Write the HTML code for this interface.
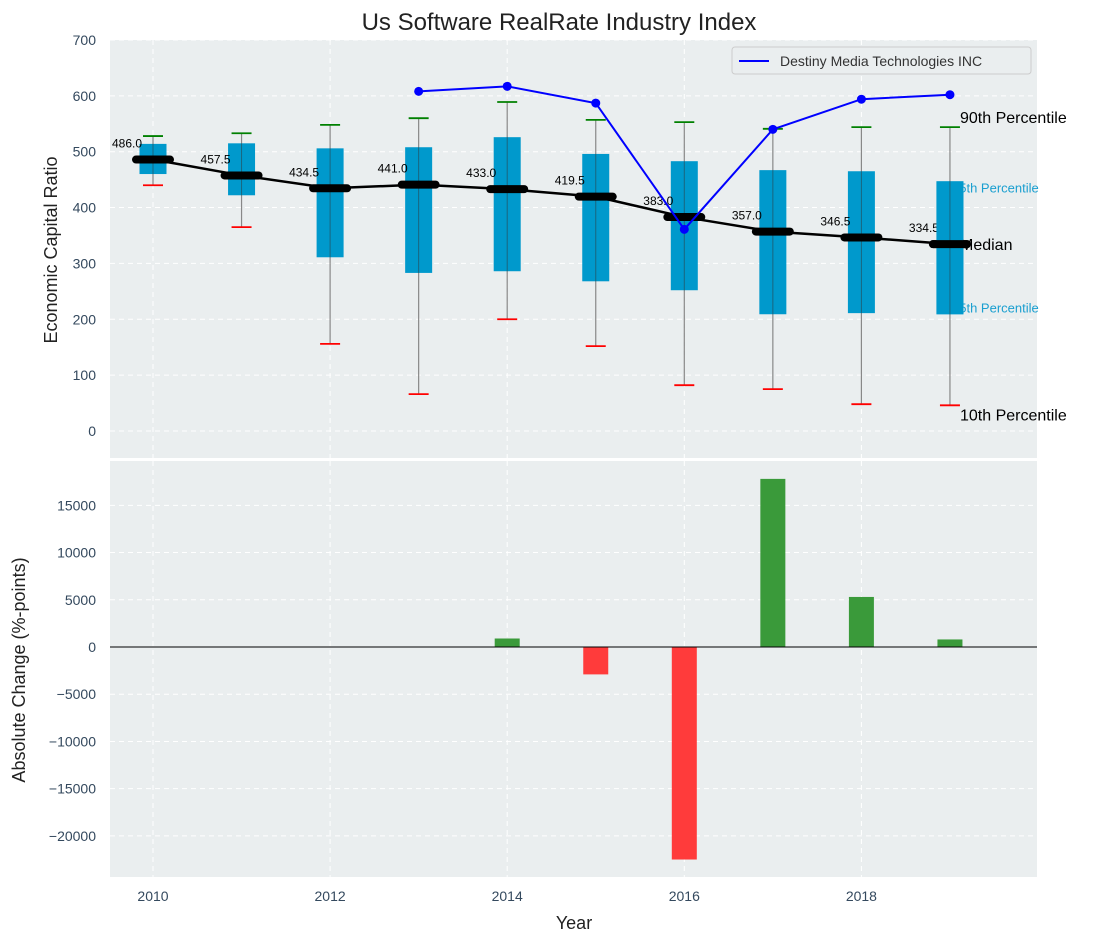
<!DOCTYPE html>
<html><head><meta charset="utf-8">
<style>
body{margin:0;background:#fff;}
svg{display:block;font-family:"Liberation Sans","DejaVu Sans",sans-serif;}
</style></head>
<body>
<svg id="chart" width="1095" height="942" viewBox="0 0 1095 942" xmlns="http://www.w3.org/2000/svg">
<text x="559" y="30" font-size="24" text-anchor="middle" fill="#222">Us Software RealRate Industry Index</text>
<rect x="110" y="40" width="927" height="418" fill="#eaeeef"/>
<rect x="110" y="461" width="927" height="416" fill="#eaeeef"/>
<g id="grid"></g>
<g id="marks"></g>
<g id="axes"></g>
<text transform="translate(57,250) rotate(-90)" font-size="18" text-anchor="middle" fill="#222">Economic Capital Ratio</text>
<text transform="translate(25,670) rotate(-90)" font-size="18" text-anchor="middle" fill="#222">Absolute Change (%-points)</text>
<text x="574" y="929" font-size="18" text-anchor="middle" fill="#222">Year</text>
<g>
<rect x="732" y="47" width="299" height="27" fill="#eaeeef" stroke="#ccc" rx="3"/>
<line x1="739" y1="61" x2="769" y2="61" stroke="#0000ff" stroke-width="2"/>
<text x="780" y="66" font-size="14" fill="#333">Destiny Media Technologies INC</text>
</g>
</svg>
<script>
const years=[2010,2011,2012,2013,2014,2015,2016,2017,2018,2019];
const p10=[440,365,156,66,200,152,82,75,48,46];
const q1=[460,422,311,283,286,268,252,209,211,209];
const medians=[486.0,457.5,434.5,441.0,433.0,419.5,383.0,357.0,346.5,334.5];
const q3=[514,515,506,508,526,496,483,467,465,447];
const p90=[528,533,548,560,589,557,553,541,544,544];
const companyYears=[2013,2014,2015,2016,2017,2018,2019];
const companyValues=[608,617,587,361,540,594,602];
const changeYears=[2014,2015,2016,2017,2018,2019];
const changeValues=[900,-2900,-22500,17800,5300,800];
const topTicks=[0,100,200,300,400,500,600,700];
const bottomTicks=[-20000,-15000,-10000,-5000,0,5000,10000,15000];
const xTicks=[2010,2012,2014,2016,2018];

const NS="http://www.w3.org/2000/svg";
const x=yr=>153+(yr-2010)*88.55;
const yT=v=>431-v*0.5586;
const yB=v=>647-v*0.009445;
function mk(parent,tag,attrs,text){const e=document.createElementNS(NS,tag);for(const k in attrs)e.setAttribute(k,attrs[k]);if(text!==undefined)e.textContent=text;document.getElementById(parent).appendChild(e);return e;}

topTicks.forEach(t=>{const e=mk('grid','line',{x1:110,x2:1037,y1:yT(t),y2:yT(t),stroke:'#fff','stroke-dasharray':'5,4','stroke-width':1});

});
bottomTicks.forEach(t=>{const e=mk('grid','line',{x1:110,x2:1037,y1:yB(t),y2:yB(t),stroke:'#fff','stroke-dasharray':'5,4','stroke-width':1});

});
xTicks.forEach(t=>{[[40,458],[461,877]].forEach(r=>{const e=mk('grid','line',{x1:x(t),x2:x(t),y1:r[0],y2:r[1],stroke:'#fff','stroke-dasharray':'5,4','stroke-width':1});

});});

years.forEach((yr,i)=>{const cx=x(yr);
const w=mk('marks','line',{x1:cx,x2:cx,y1:yT(p90[i]),y2:yT(p10[i]),stroke:'#888','stroke-width':1.2});


const b=mk('marks','rect',{x:cx-13.5,y:yT(q3[i]),width:27,height:yT(q1[i])-yT(q3[i]),fill:'#0099cc'});


const w2=mk('marks','line',{x1:cx,x2:cx,y1:yT(q3[i]),y2:yT(q1[i]),stroke:'#333','stroke-width':1,opacity:0.5});


const a=mk('marks','line',{x1:cx-10,x2:cx+10,y1:yT(p90[i]),y2:yT(p90[i]),stroke:'green','stroke-width':1.8});


const c=mk('marks','line',{x1:cx-10,x2:cx+10,y1:yT(p10[i]),y2:yT(p10[i]),stroke:'red','stroke-width':1.8});


});
const ml=mk('marks','polyline',{points:years.map((yr,i)=>x(yr)+','+yT(medians[i])).join(' '),fill:'none',stroke:'#000','stroke-width':2.5});


years.forEach((yr,i)=>{const cx=x(yr);
const m=mk('marks','line',{x1:cx-17,x2:cx+17,y1:yT(medians[i]),y2:yT(medians[i]),stroke:'#000','stroke-width':8,'stroke-linecap':'round'});


const t=mk('marks','text',{x:cx-26,y:yT(medians[i])-12,'font-size':12,'text-anchor':'middle',fill:'#000'},medians[i].toFixed(1));


});
const cl=mk('marks','polyline',{points:companyYears.map((yr,i)=>x(yr)+','+yT(companyValues[i])).join(' '),fill:'none',stroke:'#0000ff','stroke-width':2});


companyYears.forEach((yr,i)=>{const p=mk('marks','circle',{cx:x(yr),cy:yT(companyValues[i]),r:4.5,fill:'#0000ff'});

});
const L=yT(p90[9]), ly=yT(q3[9]), lm=yT(medians[9]), lq=yT(q1[9]), l10=yT(p10[9]);
[['90th Percentile',L-4,16,'#000','label-90th'],['75th Percentile',ly+11,13,'#1a9fd0','label-75th'],['Median',lm+6,16,'#000','label-median'],['25th Percentile',lq-2,13,'#1a9fd0','label-25th'],['10th Percentile',l10+15,16,'#000','label-10th']].forEach(r=>{
const t=mk('marks','text',{x:r[2]==13?952:960,y:r[1],'font-size':r[2],fill:r[3]},r[0]);

});
{const cx=x(2019);const b=mk('marks','rect',{x:cx-13.5,y:yT(q3[9]),width:27,height:yT(q1[9])-yT(q3[9]),fill:'#0099cc'});


const w2=mk('marks','line',{x1:cx,x2:cx,y1:yT(q3[9]),y2:yT(q1[9]),stroke:'#333','stroke-width':1,opacity:0.5});


const m=mk('marks','line',{x1:cx-17,x2:cx+17,y1:yT(medians[9]),y2:yT(medians[9]),stroke:'#000','stroke-width':8,'stroke-linecap':'round'});

}
changeYears.forEach((yr,i)=>{const v=changeValues[i];const y0=yB(0),y1=yB(v);
const b=mk('marks','rect',{x:x(yr)-12.5,y:Math.min(y0,y1),width:25,height:Math.abs(y1-y0),fill:v>=0?'#3a9a3a':'#ff3b3b'});

});
const z=mk('marks','line',{x1:110,x2:1037,y1:yB(0),y2:yB(0),stroke:'#000','stroke-width':1});


topTicks.forEach(t=>{const e=mk('axes','text',{x:96,y:yT(t)+5,'font-size':14,'text-anchor':'end',fill:'#34495e'},String(t));

});
bottomTicks.forEach(t=>{const e=mk('axes','text',{x:96,y:yB(t)+5,'font-size':14,'text-anchor':'end',fill:'#34495e'},(t<0?'\u2212'+Math.abs(t):String(t)));

});
xTicks.forEach(t=>{const e=mk('axes','text',{x:x(t),y:901,'font-size':14,'text-anchor':'middle',fill:'#34495e'},String(t));

});
</script>
</body></html>
